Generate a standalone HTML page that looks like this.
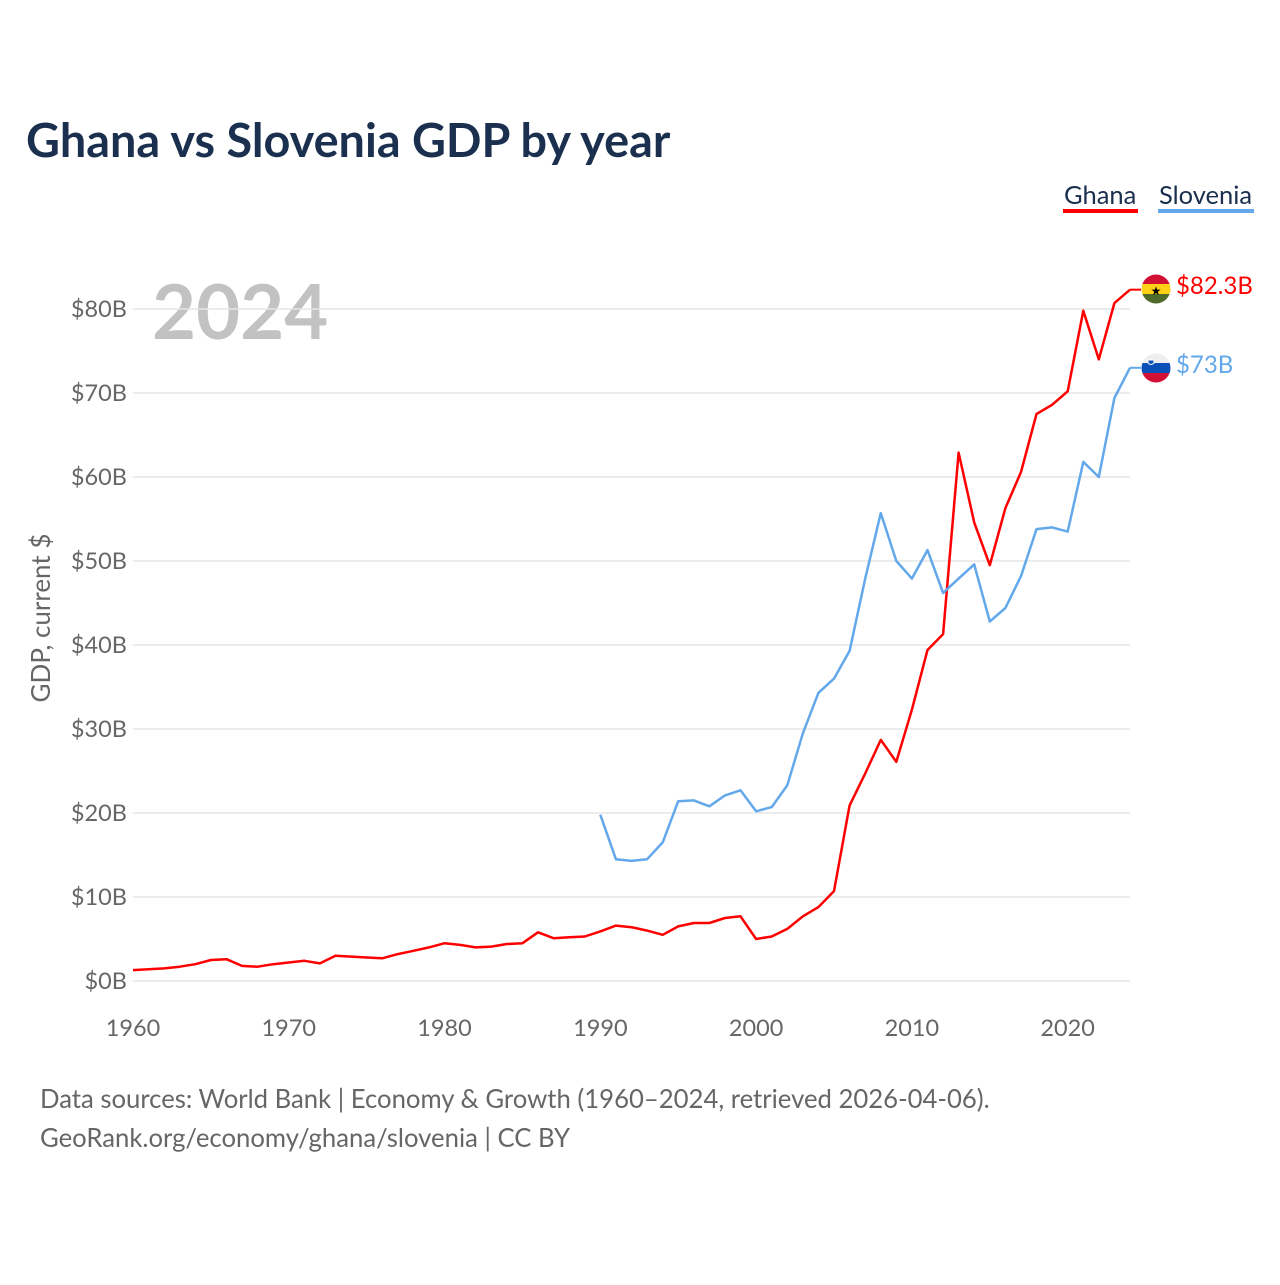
<!DOCTYPE html>
<html><head><meta charset="utf-8"><style>
html,body{margin:0;padding:0;background:#fff;}
svg text{font-family:"Lato","Liberation Sans",sans-serif;}
</style></head><body>
<svg width="1280" height="1280" viewBox="0 0 1280 1280" xmlns="http://www.w3.org/2000/svg">
<defs>
<clipPath id="cg"><circle cx="1156" cy="289" r="14.5"/></clipPath>
<clipPath id="cs"><circle cx="1156" cy="368" r="14.5"/></clipPath>
</defs>
<text x="26" y="157" font-size="46.8" font-weight="bold" fill="#1b2f4e">Ghana vs Slovenia GDP by year</text>
<g>
<text x="1064" y="204" font-size="25.5" fill="#1b2f4e">Ghana</text>
<rect x="1063" y="209" width="75" height="4" fill="#ff0000"/>
<text x="1159" y="204" font-size="25.5" fill="#1b2f4e">Slovenia</text>
<rect x="1158" y="209" width="96" height="4" fill="#62a8ea"/>
</g>
<text x="152" y="339" font-size="76" font-weight="bold" fill="#c2c2c2">2024</text>
<text transform="translate(50,618) rotate(-90)" text-anchor="middle" font-size="26" fill="#666">GDP, current $</text>
<g id="grid"></g>
<g id="yticks"></g>
<g id="xticks"></g>
<g id="lines"></g>
<g>
<g clip-path="url(#cg)">
<rect x="1140" y="274" width="32" height="10" fill="#d21034"/>
<rect x="1140" y="284" width="32" height="10" fill="#fcd116"/>
<rect x="1140" y="294" width="32" height="10" fill="#4e6b2c"/>
<text x="1156" y="295" text-anchor="middle" font-size="12" fill="#000">★</text>
</g>
<g clip-path="url(#cs)">
<rect x="1140" y="353" width="32" height="10" fill="#eeeeee"/>
<rect x="1140" y="363" width="32" height="10" fill="#0b4fb8"/>
<rect x="1140" y="373" width="32" height="10" fill="#d21034"/>
<path d="M1148 360 h6 v3 q-3 3 -6 0 z" fill="#0b4fb8" stroke="#fff" stroke-width="1"/>
</g>
<text x="1176" y="294" font-size="24" fill="#ff0000">$82.3B</text>
<text x="1176" y="373" font-size="24" fill="#62a8ea">$73B</text>
</g>
<text x="40" y="1108" font-size="25.7" fill="#666">Data sources: World Bank | Economy &amp; Growth (1960–2024, retrieved 2026-04-06).</text>
<text x="40" y="1147" font-size="25.7" fill="#666">GeoRank.org/economy/ghana/slovenia | CC BY</text>
</svg>
<script>
const years = [];
for (let y = 1960; y <= 2024; y++) years.push(y);
const ghana = [1.3,1.4,1.5,1.7,2.0,2.5,2.6,1.8,1.7,2.0,2.2,2.4,2.1,3.0,2.9,2.8,2.7,3.2,3.6,4.0,4.5,4.3,4.0,4.1,4.4,4.5,5.8,5.1,5.2,5.3,5.9,6.6,6.4,6.0,5.5,6.5,6.9,6.9,7.5,7.7,5.0,5.3,6.2,7.7,8.8,10.7,20.9,24.7,28.7,26.1,32.3,39.4,41.3,62.9,54.6,49.5,56.3,60.6,67.5,68.6,70.2,79.8,74.0,80.7,82.3];
const sloveniaYears = [];
for (let y = 1990; y <= 2024; y++) sloveniaYears.push(y);
const slovenia = [19.8,14.5,14.3,14.5,16.5,21.4,21.5,20.8,22.1,22.7,20.2,20.7,23.3,29.5,34.3,36.0,39.3,47.9,55.7,50.0,47.9,51.3,46.2,47.9,49.6,42.8,44.4,48.2,53.8,54.0,53.5,61.8,60.0,69.4,73.0];
const yTicks = [0,10,20,30,40,50,60,70,80];
const xTicks = [1960,1970,1980,1990,2000,2010,2020];
const NS = "http://www.w3.org/2000/svg";
const xS = y => 133 + (y - 1960) * (1130 - 133) / 64;
const yS = v => 981 - v * 8.4;
function mk(tag, attrs, parent, txt) {
  const e = document.createElementNS(NS, tag);
  for (const k in attrs) e.setAttribute(k, attrs[k]);
  if (txt !== undefined) e.textContent = txt;
  document.getElementById(parent).appendChild(e);
  return e;
}
yTicks.forEach(v => {
  const g = mk('line', {x1:133, x2:1130, y1:yS(v), y2:yS(v), stroke:'#e6e6e6', 'stroke-width':1.5}, 'grid');
  
  
  const t = mk('text', {x:127, y:yS(v)+8, 'text-anchor':'end', 'font-size':23.5, fill:'#666'}, 'yticks', '$' + v + 'B');
  
  
});
xTicks.forEach(y => {
  const t = mk('text', {x:xS(y), y:1036, 'text-anchor':'middle', 'font-size':23.5, fill:'#666'}, 'xticks', String(y));
  
  
});
const pg = years.map((y,i) => xS(y).toFixed(1) + ',' + yS(ghana[i]).toFixed(1)).join(' ');
const lg = mk('polyline', {points: pg, fill:'none', stroke:'#ff0000', 'stroke-width':2.5, 'stroke-linejoin':'round'}, 'lines');


const ps = sloveniaYears.map((y,i) => xS(y).toFixed(1) + ',' + yS(slovenia[i]).toFixed(1)).join(' ');
const ls = mk('polyline', {points: ps, fill:'none', stroke:'#62a8ea', 'stroke-width':2.5, 'stroke-linejoin':'round'}, 'lines');


const cg = mk('line', {x1:xS(2024), x2:1141, y1:yS(ghana[ghana.length-1]), y2:yS(ghana[ghana.length-1]), stroke:'#ff0000', 'stroke-width':2}, 'lines');


const cs = mk('line', {x1:xS(2024), x2:1141, y1:yS(slovenia[slovenia.length-1]), y2:yS(slovenia[slovenia.length-1]), stroke:'#62a8ea', 'stroke-width':2}, 'lines');


</script>
</body></html>
